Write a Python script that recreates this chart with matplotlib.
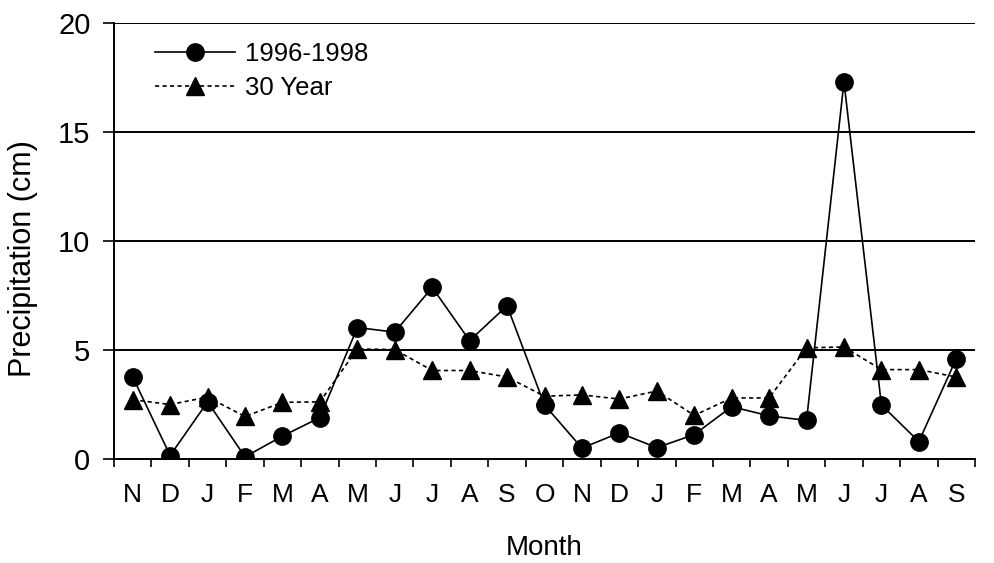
import matplotlib
matplotlib.use("Agg")
import matplotlib.pyplot as plt
import numpy as np

# ---------------------------------------------------------------------------
# Data
# ---------------------------------------------------------------------------
MONTHS = ['N', 'D', 'J', 'F', 'M', 'A', 'M', 'J', 'J', 'A', 'S', 'O',
          'N', 'D', 'J', 'F', 'M', 'A', 'M', 'J', 'J', 'A', 'S']
PRECIP_9698 = [3.76, 0.16, 2.62, 0.1, 1.05, 1.9, 6.03, 5.82, 7.87, 5.43, 7.03, 2.48,
               0.5, 1.2, 0.52, 1.12, 2.4, 1.98, 1.77, 17.3, 2.48, 0.8, 4.6]
PRECIP_30YR = [2.72, 2.5, 2.84, 1.95, 2.6, 2.62, 5.05, 5.02, 4.06, 4.06, 3.76, 2.88,
               2.94, 2.75, 3.12, 2.0, 2.8, 2.8, 5.1, 5.14, 4.1, 4.1, 3.76]
Y_TICKS = [0, 5, 10, 15, 20]

plt.rcParams['font.family'] = ['Liberation Sans', 'DejaVu Sans']

W, H = 995, 563
fig = plt.figure(figsize=(W / 100, H / 100), dpi=100)
ax = fig.add_axes([114 / W, 1 - 459 / H, 861 / W, 436 / H])

x = np.arange(len(MONTHS))

# gridlines at the major y ticks (drawn under the data)
for yv in Y_TICKS[1:]:
    ax.axhline(yv, color='black', lw=1.4, zorder=1)

ax.plot(x, PRECIP_9698, color='black', lw=1.2, marker='o', ms=12.5,
        label='1996-1998', zorder=3)
ax.plot(x, PRECIP_30YR, color='black', lw=1.2, ls=(0, (2.5, 2)), marker='^',
        ms=12.5, label='30 Year', zorder=2)

ax.set_xlim(-0.5, len(MONTHS) - 0.5)
ax.set_ylim(0, 20)

ax.set_yticks(Y_TICKS)
ax.tick_params(axis='y', direction='out', length=8, width=1.2, pad=9,
               labelsize=21)

ax.set_xticks(x)
ax.set_xticklabels(MONTHS)
ax.set_xticks(np.arange(-0.5, len(MONTHS), 1.0), minor=True)
ax.tick_params(axis='x', which='major', length=0, pad=17, labelsize=19)
ax.tick_params(axis='x', which='minor', direction='out', length=6, width=1.2)

for side in ['top', 'right']:
    ax.spines[side].set_visible(False)
ax.spines['left'].set_linewidth(1.4)
ax.spines['bottom'].set_linewidth(1.4)

ax.set_ylabel('Precipitation (cm)', fontsize=22)
ax.yaxis.set_label_coords(-0.088, 0.46)
ax.set_xlabel('Month', fontsize=20, va='top')
ax.xaxis.set_label_coords(0.5, -0.175)

leg = ax.legend(loc='upper left', bbox_to_anchor=(155 / W, 1 - 42 / H),
                bbox_transform=fig.transFigure, frameon=False,
                fontsize=18.5, handlelength=3.1, handletextpad=0.4,
                labelspacing=0.4, borderpad=0, borderaxespad=0)

fig.savefig('out.png', dpi=100)
